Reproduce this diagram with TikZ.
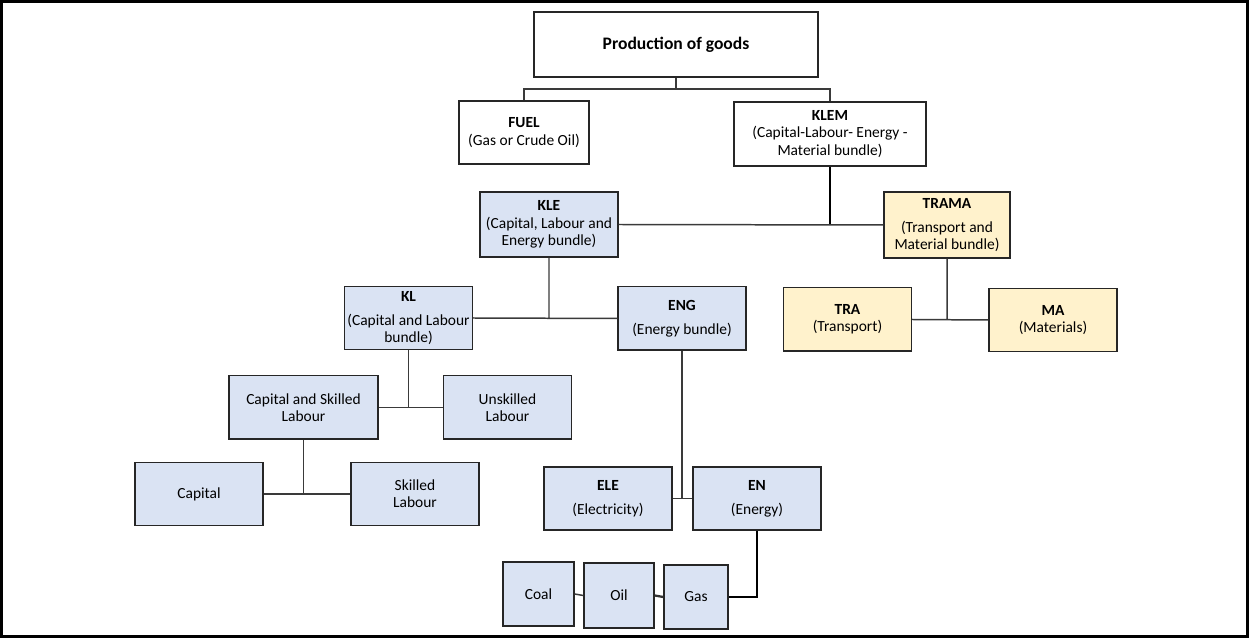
\documentclass[tikz,border=0pt]{standalone}
\usepackage{fontspec}
\setmainfont{Carlito}
\definecolor{bfill}{HTML}{DAE3F3}
\definecolor{yfill}{HTML}{FFF2CC}
\definecolor{lgray}{HTML}{3A3A3A}
\begin{document}
\begin{tikzpicture}[x=.02cm,y=-.02cm,
 bx/.style={draw=black!85,line width=.85pt,align=center,inner sep=1pt,font=\fontsize{8.8}{9.8}\selectfont},
 std/.style={minimum width=2.56cm,minimum height=1.27cm},
 bl/.style={bx,fill=bfill}, yl/.style={bx,fill=yfill},
 ln/.style={draw=lgray,line width=.85pt}, thk/.style={draw=black,line width=1.6pt}]
\useasboundingbox (0,0) rectangle (1249,638);
\draw[line width=1.2pt] (1.5,1.5) rectangle (1247.5,636.5);
\path (676,44.5) node[bx,minimum width=5.68cm,minimum height=1.3cm,font=\bfseries\fontsize{10}{12}\selectfont] (prod) {Production of goods}
(524,132.5) node[bx,minimum width=2.6cm,minimum height=1.26cm] (fuel) {\textbf{FUEL}\\(Gas or Crude Oil)}
(830,134) node[bx,minimum width=3.84cm,minimum height=1.28cm] (klem) {\textbf{KLEM}\\(Capital-Labour- Energy -\\Material bundle)}
(549,224.5) node[bl,minimum width=2.76cm,minimum height=1.3cm] (kle) {\textbf{KLE}\\(Capital, Labour and\\Energy bundle)}
(947,225) node[yl,minimum width=2.52cm,minimum height=1.32cm] (trama) {\textbf{TRAMA}\\[4pt](Transport and\\Material bundle)}
(408.5,318) node[bl,std] (kl) {\textbf{KL}\\[4pt](Capital and Labour\\bundle)}
(682,318.5) node[bl,std] (eng) {\textbf{ENG}\\[4pt](Energy bundle)}
(847.5,319.5) node[yl,std] (tra) {\textbf{TRA}\\(Transport)}
(1053,320) node[yl,std] (ma) {\textbf{MA}\\(Materials)}
(303.5,407.5) node[bl,std,minimum width=2.98cm] (csl) {Capital and Skilled\\Labour}
(507.5,407.5) node[bl,std] (usl) {Unskilled\\Labour}
(199,494) node[bl,std] (cap) {Capital}
(415,494) node[bl,std] (sl) {Skilled\\Labour}
(608,498.5) node[bl,std] (ele) {\textbf{ELE}\\[4pt](Electricity)}
(757,498.5) node[bl,std] (en) {\textbf{EN}\\[4pt](Energy)}
(538.5,594) node[bl,minimum width=1.42cm,minimum height=1.28cm] (coal) {Coal}
(619,595.5) node[bl,minimum width=1.4cm,minimum height=1.3cm] (oil) {Oil}
(696,597) node[bl,minimum width=1.28cm,minimum height=1.28cm] (gas) {Gas};
% top bracket
\coordinate (j1) at (676,89);
\draw[ln] (prod.south) -- (j1) (fuel.north) |- (j1) -| (klem.north);
\draw[thk] (klem.south) -- (klem.south |- trama.west);
\draw[ln] (kle.east) -- (trama.west);
\foreach \p/\a/\b in {kle/kl/eng, trama/tra/ma, kl/csl/usl, csl/cap/sl, eng/ele/en}
  \draw[ln] (\p.south) -- (\p.south |- \a.east) (\a.east) -- (\b.west);
\draw[ln] (coal.east) -- (oil.west);
\draw[line width=1.3pt,black!80] (oil.east) -- (gas.west);
\draw[thk] (en.south) |- (gas.east);
\end{tikzpicture}
\end{document}
